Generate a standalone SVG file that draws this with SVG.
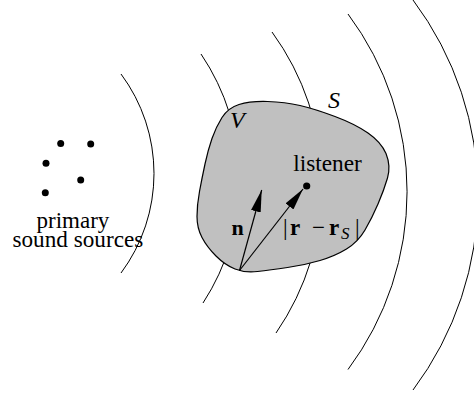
<svg xmlns="http://www.w3.org/2000/svg" width="474" height="397" viewBox="0 0 474 397">
<style>
.wave{fill:none;stroke:#000;stroke-width:1}
.vec{stroke:#000;stroke-width:1.2;fill:none;marker-end:url(#head)}
text{font-family:"Liberation Serif","DejaVu Serif","Times New Roman",serif;fill:#000}
.it{font-style:italic}
.bd{font-weight:bold}
</style>
<defs>
<marker id="head" markerUnits="userSpaceOnUse" markerWidth="22" markerHeight="10" refX="22" refY="5" orient="auto">
<path d="M0,0 L22,5 L0,10 Z" fill="#000"/>
</marker>
</defs>
<rect width="474" height="397" fill="#fff"/>
<g id="waves">
<path class="wave" d="M 121 74 A 166.5 166.5 0 0 1 121 273"/>
<path class="wave" d="M 201 54 A 225 225 0 0 1 203 303"/>
<path class="wave" d="M 272 32 A 260 260 0 0 1 276 333"/>
<path class="wave" d="M 348 14 A 297 297 0 0 1 348 369.5"/>
<path class="wave" d="M 413 0 A 325 325 0 0 1 413 390"/>
</g>
<g id="volume">
<path d="M 239 104.5 Q 250 101 267.5 101.5 Q 285 102 300 105.5 Q 315 109 335 116.5 Q 355 124 368 133 Q 381 142 386 153.5 Q 391 166 387.5 178 Q 384 190 378 204 Q 372 218 365 230 Q 358 242 346.5 249 Q 335 256 320 260.5 Q 305 265 287.5 267.5 Q 270 270 257.5 271.5 Q 245 273 235 269 Q 225 265 216 256 Q 207 247 202 237.5 Q 197 228 197 216.5 Q 197 205 199.5 191.5 Q 202 178 205 164 Q 208 150 212 138.5 Q 216 127 222 117.5 Q 228 108 239 104.5 Z" fill="#c0c0c0" stroke="#000" stroke-width="1.2"/>
<text class="it" x="230" y="128" font-size="24" font-family="Liberation Serif, serif">V</text>
<text class="it" x="328" y="108" font-size="24" font-family="Liberation Serif, serif">S</text>
</g>
<g id="sources">
<circle cx="60.7" cy="143.5" r="3.5"/>
<circle cx="90.7" cy="144" r="3.5"/>
<circle cx="46" cy="163.3" r="3.5"/>
<circle cx="80.7" cy="180" r="3.5"/>
<circle cx="45.3" cy="192.7" r="3.5"/>
<text x="36.5" y="228" font-size="23" font-family="Liberation Serif, serif">primary</text>
<text x="12.5" y="247" font-size="23.2" font-family="Liberation Serif, serif">sound sources</text>
</g>
<g id="listener">
<circle cx="306.7" cy="186" r="3.6"/>
<text x="293.3" y="170.7" font-size="23.3" font-family="Liberation Serif, serif">listener</text>
</g>
<g id="connectors">
<line class="vec" x1="239.5" y1="270.5" x2="261.7" y2="190"/>
<line class="vec" x1="239.5" y1="270.5" x2="303" y2="189"/>
</g>
<g id="labels">
<text class="bd" x="231.5" y="235" font-size="22" font-family="Liberation Serif, serif">n</text>
<text y="235" font-size="23" font-family="Liberation Serif, serif"><tspan x="283">|</tspan><tspan class="bd" x="290">r</tspan><tspan x="312">−</tspan><tspan class="bd" x="329">r</tspan><tspan class="it" x="341" dy="4" font-size="17">S</tspan><tspan x="355" dy="-4">|</tspan></text>
</g>
</svg>
